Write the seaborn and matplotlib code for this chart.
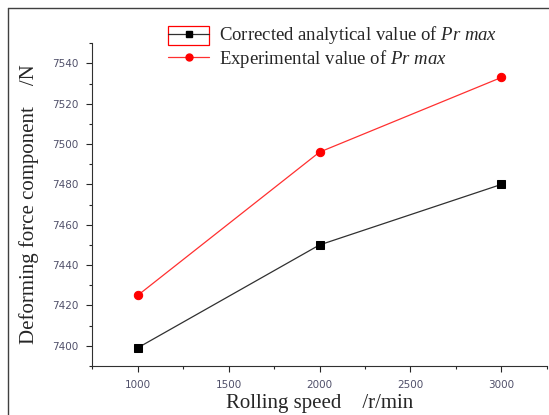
import seaborn as sns
import matplotlib.pyplot as plt
import pandas as pd
from matplotlib.lines import Line2D
from matplotlib.patches import Rectangle
from matplotlib.ticker import MultipleLocator

# data
speed = [1000, 2000, 3000]
corrected = [7399, 7450, 7480]
experimental = [7425, 7496, 7533]
labels = ['Corrected analytical value of $\\it{Pr\\ max}$',
          'Experimental value of $\\it{Pr\\ max}$']

df = pd.DataFrame({
    'speed': speed * 2,
    'force': corrected + experimental,
    'series': [labels[0]] * 3 + [labels[1]] * 3,
})

sns.set_style('ticks')
plt.rcParams['font.family'] = ['Liberation Serif', 'DejaVu Serif']
plt.rcParams['mathtext.fontset'] = 'custom'
plt.rcParams['mathtext.it'] = 'Liberation Serif:italic'
plt.rcParams['mathtext.rm'] = 'Liberation Serif'

fig = plt.figure(figsize=(5.49, 4.15), dpi=100)
ax = fig.add_axes([0.168, 0.118, 0.828, 0.778])

sns.lineplot(data=df, x='speed', y='force', hue='series', style='series',
             palette=['#303030', '#ff3030'], markers=['s', 'o'], dashes=False,
             markersize=6, linewidth=0.9, ax=ax, legend=False)
# marker colours stronger than lines
for line, mc in zip(ax.get_lines(), ['black', 'red']):
    line.set_markerfacecolor(mc)
    line.set_markeredgecolor(mc)

ax.set_xlim(750, 3250)
ax.set_ylim(7390, 7550)
ax.xaxis.set_major_locator(MultipleLocator(500))
ax.xaxis.set_minor_locator(MultipleLocator(250))
ax.yaxis.set_major_locator(MultipleLocator(20))
ax.yaxis.set_minor_locator(MultipleLocator(10))
ax.tick_params(which='major', length=4, width=0.8, labelsize=7.5,
               labelcolor='#50506a', pad=6)
ax.tick_params(which='minor', length=2.5, width=0.8)
for lab in ax.get_xticklabels() + ax.get_yticklabels():
    lab.set_family('DejaVu Sans')
sns.despine(ax=ax)
ax.spines['left'].set_color('#303030')
ax.spines['bottom'].set_color('#303030')

ax.set_xlabel('Rolling speed    /r/min', fontsize=15, labelpad=3)
ax.set_ylabel('Deforming force component    /N', fontsize=15, labelpad=9)

handles = [Line2D([], [], color='#303030', marker='s', markerfacecolor='black',
                  markeredgecolor='black', markersize=5, lw=0.9),
           Line2D([], [], color='#ff3030', marker='o', markerfacecolor='red',
                  markeredgecolor='red', markersize=5, lw=0.9)]
fig.legend(handles, labels, loc='upper left', bbox_to_anchor=(0.299, 0.951),
           frameon=False, fontsize=13.5, handlelength=2.2, handletextpad=0.5,
           labelspacing=0.1, borderpad=0.2, borderaxespad=0)

# red box around the first legend handle, as in the original
fig.add_artist(Rectangle((168 / 549, 1 - 45 / 415), 41 / 549, 19 / 415,
                         transform=fig.transFigure, fill=False,
                         edgecolor='red', lw=0.9))

# outer frame of the image
fig.add_artist(Line2D([8 / 549, 1.0], [1 - 8 / 415, 1 - 8 / 415],
                      transform=fig.transFigure, color='#404040', lw=1))
fig.add_artist(Line2D([8 / 549, 8 / 549], [0, 1 - 8 / 415],
                      transform=fig.transFigure, color='#404040', lw=1))

fig.savefig('out.png', dpi=100)
